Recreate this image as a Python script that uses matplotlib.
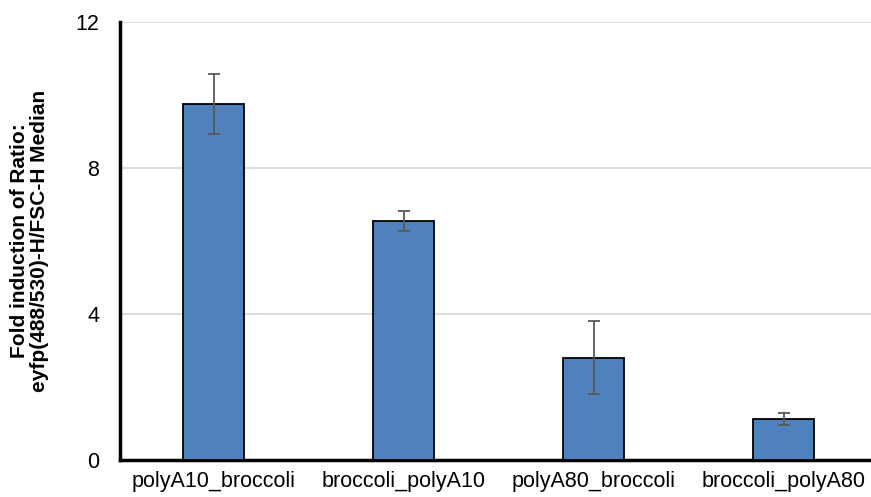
import matplotlib
matplotlib.use('Agg')
import matplotlib.pyplot as plt
import numpy as np

plt.rcParams['font.family'] = ['Liberation Sans', 'DejaVu Sans']

categories = ['polyA10_broccoli', 'broccoli_polyA10', 'polyA80_broccoli', 'broccoli_polyA80']
values = [9.75, 6.55, 2.80, 1.13]
errors = [0.82, 0.27, 1.00, 0.16]

W, H = 871, 497
fig = plt.figure(figsize=(W / 100, H / 100), dpi=100)
ax = fig.add_axes([120 / W, 37 / H, 751 / W, 438 / H])

ind = np.arange(len(categories))
ax.bar(ind, values, 0.32, color='#4F81BD', edgecolor='black', linewidth=1.3, zorder=3)
ax.errorbar(ind, values, yerr=errors, fmt='none', ecolor='#595959',
            elinewidth=1.3, capsize=4.5, capthick=1.3, zorder=4)

ax.set_xlim((120 - 213.5) / 190, (871 - 213.5) / 190)
ax.set_ylim(0, 12)
ax.set_yticks([0, 4, 8, 12])
ax.set_xticks(ind)
ax.set_xticklabels(categories)
ax.tick_params(axis='both', length=0, labelsize=15.5, colors='black')
ax.tick_params(axis='y', pad=15)
ax.tick_params(axis='x', pad=8)

ax.yaxis.grid(True, color='#D9D9D9', linewidth=1.3, zorder=0)
ax.set_axisbelow(True)
for s in ['top', 'right']:
    ax.spines[s].set_visible(False)
ax.spines['left'].set_linewidth(2.5)
ax.spines['bottom'].set_linewidth(2.5)

ax.set_ylabel('Fold induction of Ratio:\neyfp(488/530)-H/FSC-H Median',
              fontsize=15, fontweight='bold', labelpad=19, linespacing=1.05)

fig.savefig('out.png', dpi=100)
